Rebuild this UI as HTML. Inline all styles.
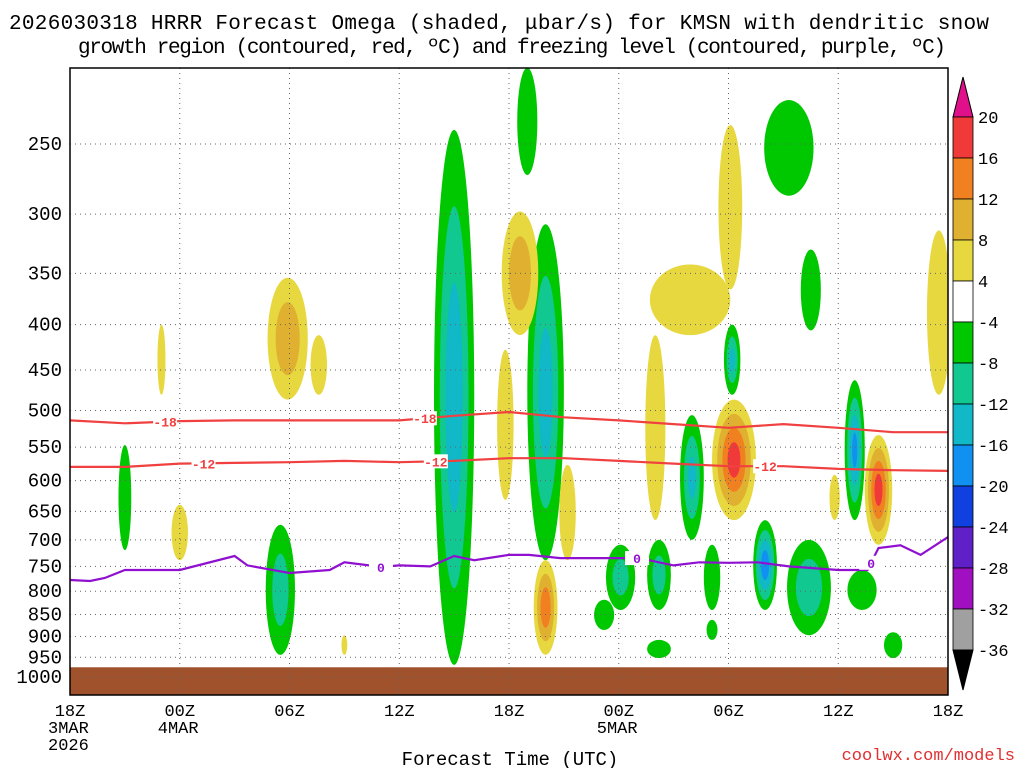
<!DOCTYPE html>
<html><head><meta charset="utf-8">
<style>
html,body{margin:0;padding:0;background:#fff;}
svg{display:block;font-family:"Liberation Mono","DejaVu Sans Mono",monospace;}
</style></head>
<body>
<svg id="chart" width="1024" height="768" viewBox="0 0 1024 768">
<text x="499" y="29" font-size="21" text-anchor="middle" textLength="980">2026030318 HRRR Forecast Omega (shaded, μbar/s) for KMSN with dendritic snow</text>
<text x="512" y="53" font-size="21" text-anchor="middle" textLength="868">growth region (contoured, red, ºC) and freezing level (contoured, purple, ºC)</text>
<g id="plot"></g>
<g id="cbar"></g>
<text x="510" y="765" font-size="19" text-anchor="middle">Forecast Time (UTC)</text>
<text x="1015" y="760" font-size="17" fill="#e03030" text-anchor="end">coolwx.com/models</text>
</svg>
<script>
// ---- data ----
const pTicks=[250,300,350,400,450,500,550,600,650,700,750,800,850,900,950,1000];
const timeTicks=[0,6,12,18,24,30,36,42,48];
const timeLabels=[["18Z","3MAR","2026"],["00Z","4MAR"],["06Z"],["12Z"],["18Z"],["00Z","5MAR"],["06Z"],["12Z"],["18Z"]];
const line18Hours=[0,3,6,9,12,15,18,21,24,27,30,33,36,39,42,45,48];
const line18P=[513,517,514,513,513,513,513,507,502,509,513,518,523,518,523,529,529];
const line12P=[579,579,574,573,572,570,572,570,566,566,570,574,578,578,582,584,585];
const frzHours=[0,1.1,1.9,3,6,9,9.7,12,14.2,15,17,18,19.7,21,22.1,24,25.1,26.8,30,31.1,33,34.4,36,37.6,39.3,42,43.6,44.2,45.4,46.5,48];
const frzP=[777,779,773,757,757,730,748,763,757,742,751,748,750,730,738,728,728,734,734,734,748,742,743,742,750,757,757,715,710,728,695];
// omega cells: centre hour, half-width hours, top/bottom pressure, peak value
const cellHour=[3.0,11.5,21.0,25.0,26.0,30.1,32.2,34.0,36.2,35.1,38.0,39.3,40.5,40.4,42.9,43.3,45.0,29.2,32.2,35.1,
  5.0,6.0,11.9,13.6,24.6,23.8,26.0,27.2,36.1,33.9,32.0,36.3,44.2,47.5,41.8,15.0];
const cellHalfW=[0.35,0.8,1.1,0.55,1.0,0.8,0.65,0.65,0.45,0.45,0.65,1.35,0.55,1.2,0.55,0.8,0.5,0.55,0.65,0.3,
  0.22,0.45,1.1,0.45,1.0,0.45,0.65,0.45,0.65,2.2,0.55,1.2,0.75,0.65,0.28,0.16];
const cellPTop=[547,673,241,205,308,709,700,506,400,709,665,223,329,700,462,757,890,818,908,862,
  400,639,354,411,298,427,738,576,238,342,411,486,533,313,591,897];
const cellPBot=[719,944,969,271,738,840,840,700,480,840,840,286,406,897,665,840,952,885,952,908,
  480,738,486,480,411,631,944,738,365,411,665,665,709,480,665,944];
const cellVal=[-7,-9,-14,-6,-13,-9,-9,-12,-12,-6,-18,-6,-6,-10,-16,-6,-6,-6,-6,-6,
  5,5,10,5,10,5,14,5,5,5,7,17,17,5,5,5];
// colour scale
const cbLevels=[20,16,12,8,4,-4,-8,-12,-16,-20,-24,-28,-32,-36];
const cbColors=["#f03a3a","#f08020","#e0b030","#e8d840","#ffffff","#00c800","#10c890","#10b8c8","#1090f0","#1040e0","#6020c8","#a010c0","#a0a0a0"];
// ---- geometry ----
const X0=70,X1=948,Y0=68,Y1=695;
function X(h){return X0+h*(X1-X0)/48;}
function Y(p){return 677+384.5*Math.log(p/1000);}
const NS="http://www.w3.org/2000/svg";
function mk(tag,attrs,parent){const e=document.createElementNS(NS,tag);for(const k in attrs)e.setAttribute(k,attrs[k]);parent.appendChild(e);return e;}
const plot=document.getElementById('plot');
const svg=document.getElementById('chart');
const clip=mk('clipPath',{id:'pc'},svg);mk('rect',{x:X0,y:Y0,width:X1-X0,height:Y1-Y0},clip);
const cells=mk('g',{'clip-path':'url(#pc)'},plot);


function colorFor(v){
  if(v>0){const i=[16,12,8,4].findIndex(t=>v>=t);return cbColors[i<0?3:i];}
  const neg=[-32,-28,-24,-20,-16,-12,-8,-4];
  for(let k=0;k<neg.length;k++){if(v<=neg[k])return cbColors[12-k];}
  return "#fff";
}
for(let i=0;i<cellHour.length;i++){
  const peak=cellVal[i],sgn=Math.sign(peak),mag=Math.abs(peak);
  const cx=X(cellHour[i]);const yt=Y(cellPTop[i]),yb=Y(cellPBot[i]);
  const cy=(yt+yb)/2,ry=(yb-yt)/2,rx=cellHalfW[i]*(X1-X0)/48;
  for(let L=4;L<=mag;L+=4){
    const f=1-(L-4)/(mag);
    const e=mk('ellipse',{cx:cx,cy:cy,rx:rx*f,ry:ry*f,fill:colorFor(sgn*(L+0.5))},cells);
    
    
  }
}
// ground
const gnd=mk('rect',{x:X0,y:Y(975),width:X1-X0,height:Y1-Y(975),fill:"#a0522d"},plot);


// grid
pTicks.forEach(p=>{
  const l=mk('line',{x1:X0,x2:X1,y1:Y(p),y2:Y(p),stroke:"#666","stroke-dasharray":"1,4","stroke-width":1},plot);
  
  
  const t=mk('text',{x:X0-8,y:Y(p)+6,"font-size":19,"text-anchor":"end"},plot);t.textContent=p;
  
  
});
timeTicks.forEach((h,i)=>{
  if(i>0&&i<timeTicks.length-1){
    const l=mk('line',{x1:X(h),x2:X(h),y1:Y0,y2:Y1,stroke:"#666","stroke-dasharray":"1,4","stroke-width":1},plot);
    
    
  }
  timeLabels[i].forEach((s,j)=>{
    const t=mk('text',{x:X(h),y:716+j*17,"font-size":17,"text-anchor":j>0?"start":"middle"},plot);
    if(j>0)t.setAttribute('x',X(h)-22);
    t.textContent=s;
    
    
  });
});
// lines
function pathFrom(hs,ps){return hs.map((h,i)=>(i?'L':'M')+X(h).toFixed(1)+','+Y(ps[i]).toFixed(1)).join('');}
const l18=mk('path',{d:pathFrom(line18Hours,line18P),fill:"none",stroke:"#f04040","stroke-width":2.2},plot);


const l12=mk('path',{d:pathFrom(line18Hours,line12P),fill:"none",stroke:"#f04040","stroke-width":2.2},plot);


const lf=mk('path',{d:pathFrom(frzHours,frzP),fill:"none",stroke:"#9010d0","stroke-width":2.2},plot);


function clabel(h,ps,hs,txt,col){
  let p=ps[0];for(let i=1;i<hs.length;i++){if(h<=hs[i]){const f=(h-hs[i-1])/(hs[i]-hs[i-1]);p=ps[i-1]+f*(ps[i]-ps[i-1]);break;}}
  const x=X(h),y=Y(p);
  mk('rect',{x:x-12,y:y-7,width:24,height:14,fill:"#fff"},plot);
  const t=mk('text',{x:x,y:y+5,"font-size":13,"font-weight":"bold",fill:col,"text-anchor":"middle"},plot);t.textContent=txt;
  
  
}
clabel(5.2,line18P,line18Hours,"-18","#f04040");
clabel(19.4,line18P,line18Hours,"-18","#f04040");
clabel(7.3,line12P,line18Hours,"-12","#f04040");
clabel(20.0,line12P,line18Hours,"-12","#f04040");
clabel(38.0,line12P,line18Hours,"-12","#f04040");
clabel(17.0,frzP,frzHours,"0","#9010d0");
clabel(31.0,frzP,frzHours,"0","#9010d0");
clabel(43.8,frzP,frzHours,"0","#9010d0");
mk('rect',{x:X0,y:Y0,width:X1-X0,height:Y1-Y0,fill:"none",stroke:"#000","stroke-width":1.5},plot);
// colorbar
const cb=document.getElementById('cbar');
const CX=953,CW=20,CY0=117,STEP=41;
function cY(i){return CY0+i*STEP;}
mk('polygon',{points:`${CX},${cY(0)} ${CX+CW},${cY(0)} ${CX+CW/2},${CY0-40}`,fill:"#e0108a",stroke:"#000"},cb);
for(let i=0;i<cbColors.length;i++){
  const r=mk('rect',{x:CX,y:cY(i),width:CW,height:STEP,fill:cbColors[i],stroke:"#000","stroke-width":0.8},cb);
  
  
}
const last=cY(cbColors.length);
mk('polygon',{points:`${CX},${last} ${CX+CW},${last} ${CX+CW/2},${last+40}`,fill:"#000",stroke:"#000"},cb);
cbLevels.forEach((v,i)=>{
  const t=mk('text',{x:CX+CW+5,y:cY(i)+6,"font-size":17},cb);t.textContent=v;
  
  
});
</script>
</body></html>
